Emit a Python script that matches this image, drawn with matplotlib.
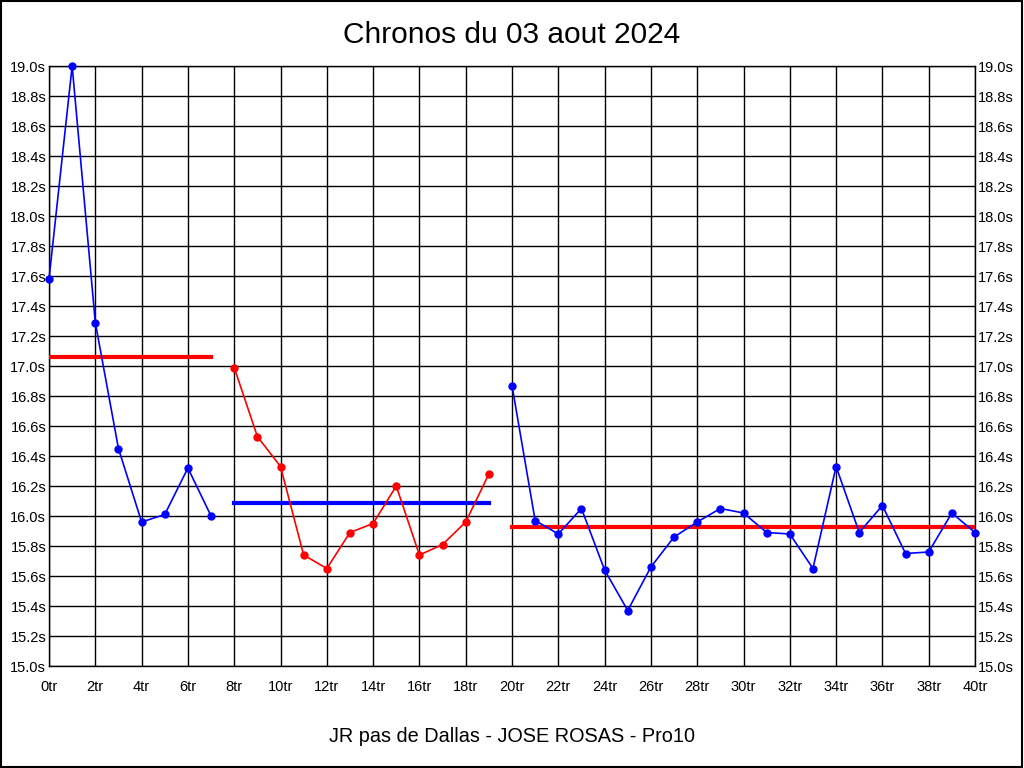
import matplotlib
matplotlib.use("Agg")
import matplotlib.pyplot as plt
from matplotlib.patches import Rectangle

plt.rcParams['font.family'] = ['Liberation Sans', 'DejaVu Sans']

# Data
laps_a = [0, 1, 2, 3, 4, 5, 6, 7]
times_a = [17.58, 19.00, 17.29, 16.45, 15.96, 16.01, 16.32, 16.00]
laps_b = [8, 9, 10, 11, 12, 13, 14, 15, 16, 17, 18, 19]
times_b = [16.99, 16.53, 16.33, 15.74, 15.65, 15.89, 15.95, 16.20, 15.74, 15.81, 15.96, 16.28]
laps_c = list(range(20, 41))
times_c = [16.87, 15.97, 15.88, 16.05, 15.64, 15.37, 15.66, 15.86, 15.96, 16.05, 16.02,
           15.89, 15.88, 15.65, 16.33, 15.89, 16.07, 15.75, 15.76, 16.02, 15.89]
mean_a, mean_b, mean_c = 17.06, 16.09, 15.925

title = "Chronos du 03 aout 2024"
xlabel = "JR pas de Dallas - JOSE ROSAS - Pro10"
xticks = list(range(0, 41, 2))
xticklabels = [f"{v}tr" for v in xticks]
yticks = [15.0 + 0.2 * i for i in range(21)]
yticklabels = [f"{v:.1f}s" for v in yticks]

fig = plt.figure(figsize=(10.24, 7.68), dpi=100)
fig.patch.set_facecolor('white')
fig.patches.append(Rectangle((0.0005, 0.0012), 0.998, 0.997, transform=fig.transFigure,
                             fill=False, edgecolor='black', linewidth=1.5))
ax = fig.add_axes([49/1024, 1 - 666/768, 926/1024, 600/768])

ax.set_xlim(0, 40)
ax.set_ylim(15.0, 19.0)
ax.set_xticks(xticks)
ax.set_xticklabels(xticklabels)
ax.set_yticks(yticks)
ax.set_yticklabels(yticklabels)
ax.grid(True, color='black', linewidth=1.0)
ax.set_axisbelow(True)
for s in ax.spines.values():
    s.set_color('black')
    s.set_linewidth(1.0)
ax.tick_params(axis='both', length=0, labelsize=10.5, colors='black')
ax.tick_params(axis='x', pad=10)
ax.tick_params(axis='y', labelright=True, right=False, pad=2)

mk = dict(marker='o', markersize=5, linewidth=1.2)
ax.plot(laps_a, times_a, color='#0000ff', **mk, clip_on=False, zorder=4)
ax.plot(laps_b, times_b, color='#ff0000', **mk, clip_on=False, zorder=4)
ax.plot(laps_c, times_c, color='#0000ff', **mk, clip_on=False, zorder=4)

ax.plot([laps_a[0], laps_a[-1]], [mean_a, mean_a], color='#ff0000', linewidth=3, zorder=3)
ax.plot([laps_b[0], laps_b[-1]], [mean_b, mean_b], color='#0000ff', linewidth=3, zorder=3)
ax.plot([laps_c[0], laps_c[-1]], [mean_c, mean_c], color='#ff0000', linewidth=3, zorder=3)

fig.text(0.5, 1 - 35/768, title, ha='center', va='center', fontsize=21.5)
fig.text(0.5, 1 - 736/768, xlabel, ha='center', va='center', fontsize=14.3)

fig.savefig("out.png", dpi=100)
